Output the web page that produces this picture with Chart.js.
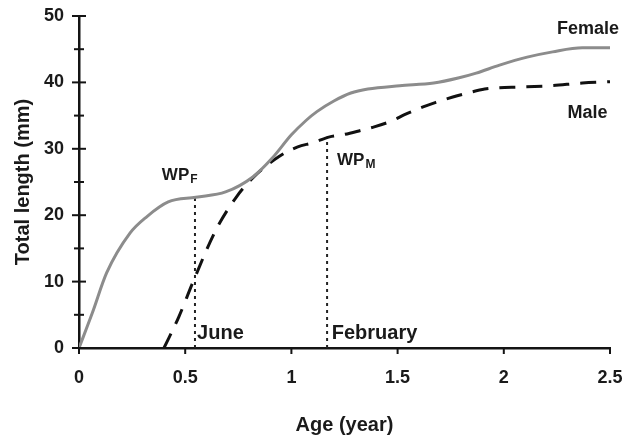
<!DOCTYPE html>
<html>
<head>
<meta charset="utf-8">
<script src="https://cdn.jsdelivr.net/npm/chart.js@4"></script>
<style>
  html, body { margin: 0; padding: 0; background: #fff; }
  #wrap { width: 624px; height: 439px; }
</style>
</head>
<body>
<div id="wrap"><canvas id="myChart"></canvas></div>
<script>
// growth curves
const femaleAge = [0, 0.063, 0.13, 0.24, 0.32, 0.42, 0.55, 0.69, 0.82, 0.91, 1.00, 1.07, 1.12, 1.20, 1.28, 1.36, 1.51, 1.67, 1.79, 1.87, 1.98, 2.11, 2.23, 2.37, 2.5]
const femaleLen = [0, 5.3, 11.3, 17.3, 19.8, 22.0, 22.7, 23.5, 25.8, 28.6, 32.1, 34.3, 35.6, 37.2, 38.4, 39.0, 39.5, 39.9, 40.7, 41.4, 42.6, 43.8, 44.6, 45.2, 45.2]
const maleAge = [0.40, 0.47, 0.54, 0.645, 0.74, 0.83, 0.94, 1.03, 1.10, 1.18, 1.24, 1.33, 1.39, 1.48, 1.53, 1.62, 1.68, 1.76, 1.83, 1.91, 1.98, 2.07, 2.22, 2.37, 2.5]
const maleLen = [0, 4.7, 10.2, 17.8, 22.7, 26.0, 28.8, 30.3, 30.9, 31.8, 32.1, 32.8, 33.3, 34.3, 35.1, 36.3, 37.0, 37.8, 38.4, 39.0, 39.2, 39.3, 39.5, 39.9, 40.1]
// weaning points (female June, male February)
const wpAge = [0.546, 1.168]
const wpLen = [22.7, 31.8]
const xTicks = [0, 0.5, 1, 1.5, 2, 2.5]

const FONT = "'Liberation Sans', Arial, sans-serif"
const ctx = document.getElementById('myChart').getContext('2d')

const toPts = (xs, ys) => xs.map((x, i) => ({ x: x, y: ys[i] }))

// text labels placed in data units
const notes = [
  { text: 'Female', x: 2.25, y: 47.3, size: 18 },
  { text: 'Male', x: 2.30, y: 34.6, size: 18 },
  { text: 'WP', sub: 'F', x: 0.39, y: 25.3, size: 17 },
  { text: 'WP', sub: 'M', x: 1.215, y: 27.6, size: 17 },
  { text: 'June', x: 0.556, y: 1.35, size: 20 },
  { text: 'February', x: 1.19, y: 1.35, size: 20 }
]

const decor = {
  id: 'decor',
  afterDraw(chart) {
    const c = chart.ctx
    const xs = chart.scales.x, ys = chart.scales.y
    c.save()
    c.strokeStyle = '#141414'
    c.lineWidth = 2
    // y ticks cross the axis, majors longer
    ys.ticks.forEach(t => {
      const py = ys.getPixelForValue(t.value)
      const len = t.value % 10 === 0 ? 7 : 5
      c.beginPath()
      c.moveTo(xs.left - len, py)
      c.lineTo(xs.left + len, py)
      c.stroke()
    })
    // x ticks point down
    xs.ticks.forEach(t => {
      const px = xs.getPixelForValue(t.value)
      c.beginPath()
      c.moveTo(px, ys.bottom)
      c.lineTo(px, ys.bottom + 6)
      c.stroke()
    })
    c.fillStyle = '#1a1a1a'
    c.textBaseline = 'alphabetic'
    c.textAlign = 'left'
    notes.forEach(n => {
      const px = xs.getPixelForValue(n.x)
      const py = ys.getPixelForValue(n.y)
      c.font = 'bold ' + n.size + 'px ' + FONT
      c.fillText(n.text, px, py)
      if (n.sub) {
        const w = c.measureText(n.text).width
        c.font = 'bold 12px ' + FONT
        c.fillText(n.sub, px + w + 1, py + 3)
      }
    })
    c.restore()
  }
}

new Chart(ctx, {
  type: 'scatter',
  data: {
    datasets: [
      {
        label: 'Female',
        data: toPts(femaleAge, femaleLen),
        showLine: true,
        borderColor: '#8c8c8c',
        borderWidth: 3,
        pointRadius: 0,
        cubicInterpolationMode: 'monotone'
      },
      {
        label: 'Male',
        data: toPts(maleAge, maleLen),
        showLine: true,
        borderColor: '#111',
        borderWidth: 3,
        borderDash: [16, 11],
        pointRadius: 0,
        cubicInterpolationMode: 'monotone'
      },
      {
        label: 'WPF',
        data: [{ x: wpAge[0], y: 0 }, { x: wpAge[0], y: wpLen[0] }],
        showLine: true,
        borderColor: '#222',
        borderWidth: 2,
        borderDash: [3, 4],
        pointRadius: 0
      },
      {
        label: 'WPM',
        data: [{ x: wpAge[1], y: 0 }, { x: wpAge[1], y: wpLen[1] }],
        showLine: true,
        borderColor: '#222',
        borderWidth: 2,
        borderDash: [3, 4],
        pointRadius: 0
      }
    ]
  },
  options: {
    responsive: true,
    maintainAspectRatio: false,
    animation: false,
    layout: { padding: { top: 16, right: 14, left: 0, bottom: 0 } },
    plugins: { legend: { display: false }, tooltip: { enabled: false } },
    scales: {
      x: {
        type: 'linear',
        min: 0,
        max: 2.5,
        afterFit(scale) {
          scale.height = 91
          scale.paddingLeft = 0
          scale.paddingRight = 0
        },
        afterBuildTicks(scale) { scale.ticks = xTicks.map(v => ({ value: v })) },
        border: { display: true, color: '#141414', width: 2.5 },
        grid: { display: true, drawOnChartArea: false, drawTicks: true, tickLength: 6, color: 'rgba(0,0,0,0)' },
        ticks: {
          padding: 13,
          color: '#1a1a1a',
          font: { family: FONT, size: 18, weight: 'bold' },
          callback(value) { return String(value) }
        },
        title: {
          display: true,
          text: 'Age (year)',
          color: '#1a1a1a',
          font: { family: FONT, size: 20, weight: 'bold' },
          padding: { top: 0, bottom: 2 }
        }
      },
      y: {
        min: 0,
        max: 50,
        afterFit(scale) {
          scale.width = 79
          scale.paddingTop = 0
          scale.paddingBottom = 0
        },
        border: { display: true, color: '#141414', width: 2.5 },
        grid: { display: true, drawOnChartArea: false, drawTicks: true, tickLength: 7, color: 'rgba(0,0,0,0)' },
        ticks: {
          stepSize: 5,
          padding: 8,
          color: '#1a1a1a',
          font: { family: FONT, size: 18, weight: 'bold' },
          callback(value) { return value % 10 === 0 ? value : '' }
        },
        title: {
          display: true,
          text: 'Total length (mm)',
          color: '#1a1a1a',
          font: { family: FONT, size: 20, weight: 'bold' },
          padding: { top: 11, bottom: 0 }
        }
      }
    }
  },
  plugins: [decor]
})
</script>
</body>
</html>
